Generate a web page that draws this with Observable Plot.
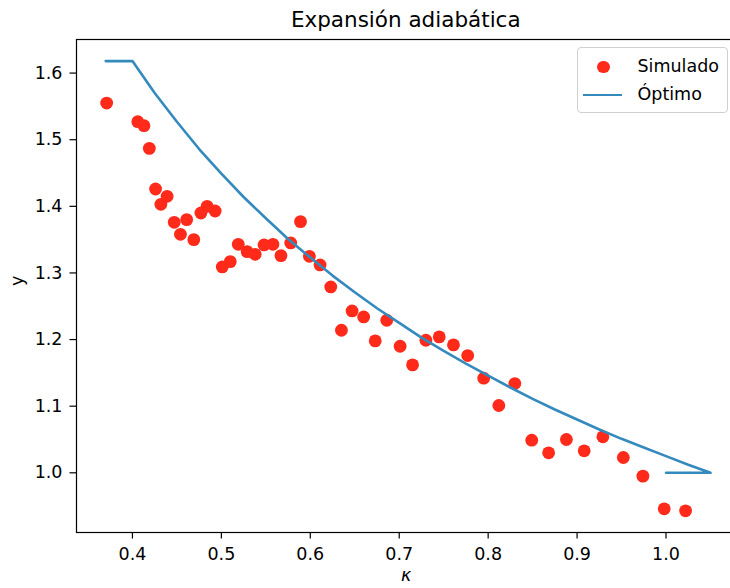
<!DOCTYPE html>
<html>
<head>
<meta charset="utf-8">
<script src="https://cdn.jsdelivr.net/npm/d3@7"></script>
<script src="https://cdn.jsdelivr.net/npm/@observablehq/plot@0.6"></script>
<style>
  html, body { margin: 0; padding: 0; background: white; overflow: hidden; width: 730px; height: 588px; }
  #wrap { position: relative; width: 730px; height: 588px; overflow: hidden; font-family: "DejaVu Sans", sans-serif; color: black; }
  #title { position: absolute; left: 76px; width: 659.5px; top: 0; height: 34px; text-align: center; font-size: 21.5px; line-height: 40px; }
  #chart { position: absolute; left: 0; top: 34px; width: 738px; }
  #chart svg { max-width: none !important; }
  #legend { position: absolute; left: 576.5px; top: 47px; width: 149px; height: 64px; border: 1px solid #d0d0d0; border-radius: 4px; background: rgba(255,255,255,0.8); font-size: 17.5px; }
  .lg-text { position: absolute; left: 60px; line-height: 20px; white-space: nowrap; }
</style>
</head>
<body>
<div id="wrap">
  <div id="title"></div>
  <div id="chart"></div>
  <div id="legend"></div>
</div>
<script>
// ---- data ----
const titleText = "Expansión adiabática";
const xLabel = "κ";
const yLabel = "y";
const seriesNames = ["Simulado", "Óptimo"];
const seriesColors = ["#ff2a1a", "#348ABD"];

// Simulated points
const simK = [0.371,0.406,0.413,0.419,0.426,0.432,0.439,0.447,0.454,0.461,0.469,0.477,0.484,0.493,
  0.501,0.510,0.519,0.529,0.538,0.548,0.558,0.567,0.578,0.589,0.599,0.611,0.623,0.635,0.647,0.660,
  0.673,0.686,0.701,0.715,0.730,0.745,0.761,0.777,0.795,0.812,0.830,0.849,0.868,0.888,0.908,0.929,
  0.952,0.974,0.998,1.022];
const simY = [1.555,1.527,1.521,1.487,1.426,1.403,1.415,1.376,1.358,1.380,1.350,1.390,1.400,1.393,
  1.309,1.317,1.343,1.332,1.328,1.342,1.343,1.326,1.345,1.377,1.325,1.312,1.279,1.214,1.243,1.234,
  1.198,1.229,1.190,1.162,1.199,1.204,1.192,1.176,1.142,1.101,1.134,1.049,1.030,1.050,1.033,1.054,
  1.023,0.995,0.946,0.943];

// Optimal curve (in drawing order)
const optK = [0.37,0.40,0.425,0.45,0.475,0.50,0.525,0.55,0.575,0.60,0.625,0.65,0.675,0.70,0.725,0.75,
  0.775,0.80,0.825,0.85,0.875,0.90,0.925,0.95,0.975,1.00,1.025,1.05,1.00];
const optY = [1.618,1.618,1.570,1.527,1.486,1.449,1.414,1.382,1.351,1.323,1.296,1.271,1.247,1.225,1.203,1.183,
  1.164,1.146,1.128,1.111,1.095,1.080,1.065,1.051,1.038,1.025,1.012,1.000,1.000];

const xTicks = [0.4,0.5,0.6,0.7,0.8,0.9,1.0];
const yTicks = [1.0,1.1,1.2,1.3,1.4,1.5,1.6];

// ---- build ----
const sim = simK.map((k, i) => ({k, y: simY[i]}));
const opt = optK.map((k, i) => ({k, y: optY[i]}));

document.getElementById("title").textContent = titleText;

const fs = 17.5;
const chart = Plot.plot({
  width: 738,
  height: 554,
  marginTop: 5,
  marginBottom: 56,
  marginLeft: 76,
  marginRight: 2.5,
  style: {fontFamily: "DejaVu Sans", fontSize: fs + "px", color: "black", background: "white", overflow: "visible", maxWidth: "none"},
  x: {domain: [0.3371, 1.0787]},
  y: {domain: [0.9104, 1.6504]},
  marks: [
    Plot.dot(sim, {x: "k", y: "y", r: 6.4, fill: seriesColors[0], stroke: "none"}),
    Plot.line(opt, {x: "k", y: "y", stroke: seriesColors[1], strokeWidth: 2.6}),
    Plot.frame({stroke: "black", strokeWidth: 1.2}),
    Plot.axisX({ticks: xTicks, tickFormat: d3.format(".1f"), tickSize: 6.5, tickPadding: 8.5, label: null, fontSize: fs, stroke: "black", strokeWidth: 1.2}),
    Plot.axisY({ticks: yTicks, tickFormat: d3.format(".1f"), tickSize: 6.5, tickPadding: 7.5, label: null, fontSize: fs, stroke: "black", strokeWidth: 1.2}),
    Plot.text([xLabel], {text: d => d, frameAnchor: "bottom", dy: 48, fontSize: fs, fontStyle: "italic"}),
    Plot.text([yLabel], {text: d => d, frameAnchor: "left", dx: -59, rotate: -90, fontSize: fs})
  ]
});
chart.style.maxWidth = "none";
chart.setAttribute("width", 738);
document.getElementById("chart").appendChild(chart);

// legend
const lg = document.getElementById("legend");
const dot = document.createElement("span");
Object.assign(dot.style, {position: "absolute", left: "19.4px", top: "12.6px", width: "12.8px", height: "12.8px", borderRadius: "50%", background: seriesColors[0]});
lg.appendChild(dot);
const t1 = document.createElement("span");
t1.className = "lg-text"; t1.style.top = "8px"; t1.textContent = seriesNames[0];
lg.appendChild(t1);
const ln = document.createElement("span");
Object.assign(ln.style, {position: "absolute", left: "5.5px", top: "45.8px", width: "39px", height: "2.4px", background: seriesColors[1]});
lg.appendChild(ln);
const t2 = document.createElement("span");
t2.className = "lg-text"; t2.style.top = "36px"; t2.textContent = seriesNames[1];
lg.appendChild(t2);
</script>
</body>
</html>
